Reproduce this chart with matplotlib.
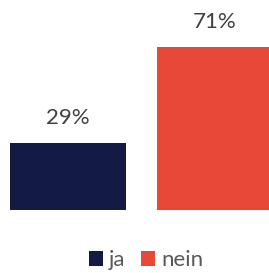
import matplotlib
matplotlib.use("Agg")
import matplotlib.pyplot as plt
from matplotlib.patches import Patch

categories = ["ja", "nein"]
values = [29, 71]
labels = ["29%", "71%"]
colors = ["#131B45", "#E84838"]

plt.rcParams['font.family'] = ['Lato', 'DejaVu Sans']

fig = plt.figure(figsize=(2.69, 2.73), dpi=100)
ax = fig.add_axes([0, (273 - 210) / 273, 1, 210 / 273])
x = list(range(len(categories)))
bars = ax.bar(x, values, width=0.79, color=colors)
for xi, v, lab in zip(x, values, labels):
    ax.text(xi, v + 6.5, lab, ha='center', va='bottom', fontsize=16, color='#404040')
ax.set_xlim(-68 / 147, (269 - 68) / 147)
ax.set_ylim(0, 210 / 2.30)
ax.axis('off')

handles = [Patch(facecolor=c, edgecolor='none') for c in colors]
fig.legend(handles, categories, loc='center', bbox_to_anchor=(146 / 269, 1 - 260 / 273),
           ncol=2, frameon=False, fontsize=16, labelcolor='#595959',
           handlelength=0.65, handleheight=0.65, handletextpad=0.25, columnspacing=0.7)

fig.savefig("out.png", dpi=100)
